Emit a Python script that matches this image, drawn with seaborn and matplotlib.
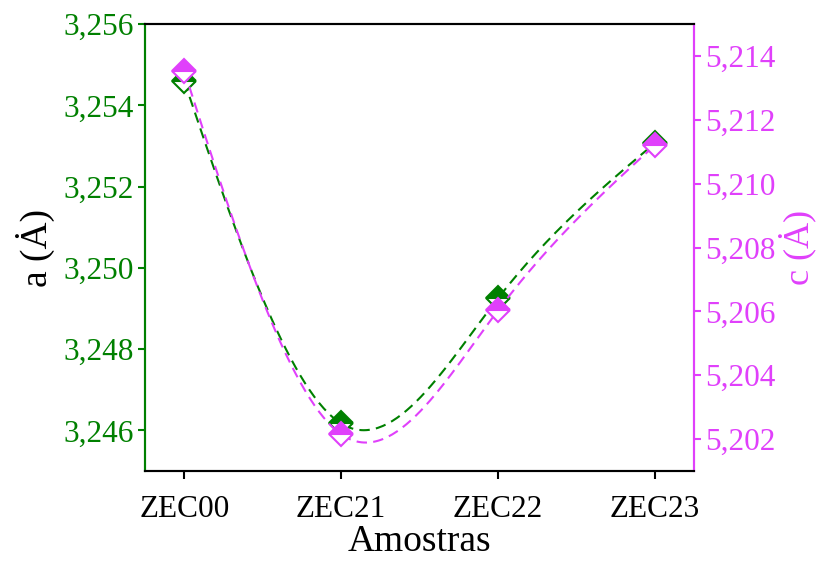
import numpy as np
import pandas as pd
import matplotlib
matplotlib.use("Agg")
import matplotlib.pyplot as plt
from matplotlib.ticker import FuncFormatter
import seaborn as sns

# Lattice parameters of the samples
samples = ["ZEC00", "ZEC21", "ZEC22", "ZEC23"]
a_vals = [3.2546, 3.24617, 3.24925, 3.25307]
c_vals = [5.21354, 5.20215, 5.20603, 5.21121]

green = "#008000"
magenta = "#E040FB"

sns.set_theme(style="white")
plt.rcParams["font.family"] = ["Liberation Serif", "DejaVu Serif"]
plt.rcParams["mathtext.fontset"] = "stix"


def natural_spline(x, y, n=200):
    """Smooth natural cubic spline through the points (for the guide line)."""
    x = np.asarray(x, float)
    y = np.asarray(y, float)
    k = len(x)
    h = np.diff(x)
    A = np.zeros((k, k))
    r = np.zeros(k)
    A[0, 0] = A[-1, -1] = 1.0
    for i in range(1, k - 1):
        A[i, i - 1] = h[i - 1]
        A[i, i] = 2 * (h[i - 1] + h[i])
        A[i, i + 1] = h[i]
        r[i] = 6 * ((y[i + 1] - y[i]) / h[i] - (y[i] - y[i - 1]) / h[i - 1])
    M = np.linalg.solve(A, r)
    xs = np.linspace(x[0], x[-1], n)
    idx = np.clip(np.searchsorted(x, xs) - 1, 0, k - 2)
    x0, x1 = x[idx], x[idx + 1]
    hh = x1 - x0
    t0, t1 = x1 - xs, xs - x0
    ys = (M[idx] * t0 ** 3 + M[idx + 1] * t1 ** 3) / (6 * hh) \
        + (y[idx] / hh - M[idx] * hh / 6) * t0 \
        + (y[idx + 1] / hh - M[idx + 1] * hh / 6) * t1
    return xs, ys


pos = np.arange(len(samples))
fig, ax = plt.subplots(figsize=(8.17, 5.63), dpi=100)
fig.subplots_adjust(left=0.1775, right=0.8495, top=0.957, bottom=0.1635)
ax2 = ax.twinx()

xa, ya = natural_spline(pos, a_vals)
xc, yc = natural_spline(pos, c_vals)
sns.lineplot(x=xa, y=ya, ax=ax, color=green, lw=1.5, linestyle=(0, (5, 3)))
sns.lineplot(x=xc, y=yc, ax=ax2, color=magenta, lw=1.5, linestyle=(0, (5, 3)))

ax.plot(pos, a_vals, linestyle="none", marker="D", ms=12.5, mew=1.5,
        color=green, mfc=green, mec=green, fillstyle="top",
        markerfacecoloralt="white", zorder=5)
ax2.plot(pos, c_vals, linestyle="none", marker="D", ms=12.5, mew=1.5,
         color=magenta, mfc=magenta, mec=magenta, fillstyle="top",
         markerfacecoloralt="white", zorder=6)

ax.set_xlim(-0.25, 3.25)
ax.set_ylim(3.245, 3.256)
ax2.set_ylim(5.201, 5.215)
ax.set_xticks(pos)
ax.set_xticklabels(samples)
ax.set_yticks(np.arange(3.246, 3.2565, 0.002))
ax2.set_yticks(np.arange(5.202, 5.2145, 0.002))

comma = FuncFormatter(lambda v, p: f"{v:.3f}".replace(".", ","))
ax.yaxis.set_major_formatter(comma)
ax2.yaxis.set_major_formatter(comma)

ax.set_xlabel("Amostras", fontsize=27, color="black", labelpad=1)
ax.set_ylabel("a (Ȧ)", fontsize=27, color="black", labelpad=6)
ax2.set_ylabel("c (Ȧ)", fontsize=26, color=magenta, labelpad=2)

for a in (ax, ax2):
    for s in a.spines.values():
        s.set_linewidth(1.5)
        s.set_color("black")
    a.spines["left"].set_color(green)
    a.spines["right"].set_color(magenta)
    a.grid(False)

ax.tick_params(axis="x", direction="out", length=6, width=1.5, colors="black",
               labelsize=22.5, pad=11, bottom=True)
ax.tick_params(axis="y", direction="out", length=5, width=1.5, colors=green,
               labelsize=22.5, pad=3, left=True)
ax2.tick_params(axis="y", direction="out", length=5, width=1.5, colors=magenta,
                labelsize=22.5, pad=3, right=True)

fig.savefig("out.png", dpi=100)
